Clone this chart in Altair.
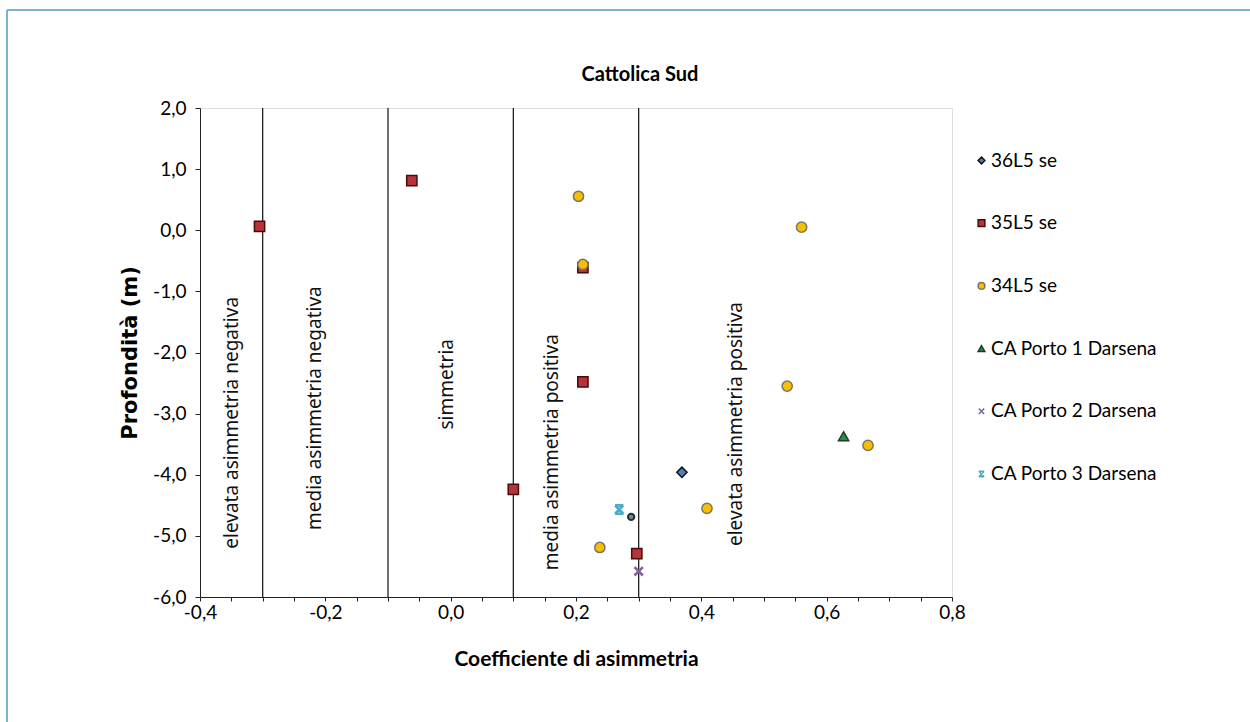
import altair as alt
import pandas as pd

# ---- series (coefficiente di asimmetria, profondità in m) ----
series_names = ["36L5 se", "35L5 se", "34L5 se",
                "CA Porto 1 Darsena", "CA Porto 2 Darsena", "CA Porto 3 Darsena"]

s36_x = [0.369]
s36_y = [-3.96]

s35_x = [-0.305, -0.062, 0.211, 0.211, 0.100, 0.297]
s35_y = [0.065, 0.81, -0.61, -2.48, -4.24, -5.29]

s34_x = [0.204, 0.211, 0.560, 0.537, 0.666, 0.409, 0.238]
s34_y = [0.556, -0.56, 0.05, -2.55, -3.52, -4.55, -5.19]

porto1_x = [0.627]
porto1_y = [-3.37]

porto2_x = [0.300]
porto2_y = [-5.58]

porto3_x = [0.269]
porto3_y = [-4.57]

# campione senza voce in legenda
extra_x = [0.288]
extra_y = [-4.69]

# ---- classi di asimmetria ----
class_bounds = [-0.3, -0.1, 0.1, 0.3]
class_labels = ["elevata asimmetria negativa", "media asimmetria negativa",
                "simmetria", "media asimmetria positiva",
                "elevata asimmetria positiva"]
class_label_x = [-0.349, -0.217, -0.006, 0.161, 0.456]
class_label_y = [-3.15, -2.91, -2.52, -3.63, -3.17]

chart_title = ["Cattolica Sud"]

# ---- ticks ----
x_ticks = [-0.40, -0.35, -0.30, -0.25, -0.20, -0.15, -0.10, -0.05, 0.00,
           0.05, 0.10, 0.15, 0.20, 0.25, 0.30, 0.35, 0.40, 0.45, 0.50,
           0.55, 0.60, 0.65, 0.70, 0.75, 0.80]
y_ticks = [2, 1, 0, -1, -2, -3, -4, -5, -6]

# ---- marker styles ----
shape_range = [
    "diamond", "square", "circle", "triangle-up",
    "M-0.8,-0.8L0.8,0.8M0.8,-0.8L-0.8,0.8",
    "M-0.8,-0.8L0.8,-0.8M-0.8,0.8L0.8,0.8M-0.8,-0.8L0.8,0.8M0.8,-0.8L-0.8,0.8",
]
fill_range = ["#4f81bd", "#b8323a", "#f5c000", "#2e8b4f", "#8064a2", "#4bacc6"]
stroke_range = ["#111111", "#4a0a0a", "#7d7466", "#1b3f25", "#8064a2", "#4bacc6"]
filled_series = series_names[:4]
cross_series = series_names[4:]

rows = []
for name, xs, ys in zip(series_names,
                        [s36_x, s35_x, s34_x, porto1_x, porto2_x, porto3_x],
                        [s36_y, s35_y, s34_y, porto1_y, porto2_y, porto3_y]):
    for xv, yv in zip(xs, ys):
        rows.append({"serie": name, "asim": xv, "prof": yv})
points_df = pd.DataFrame(rows)
extra_df = pd.DataFrame({"asim": extra_x, "prof": extra_y})
bounds_df = pd.DataFrame({"asim": class_bounds})
labels_df = pd.DataFrame({"testo": class_labels, "asim": class_label_x,
                          "prof": class_label_y})
title_df = pd.DataFrame({"testo": chart_title})

LABEL_FONT = "Lato"
comma = "replace(replace(format(datum.value, '.1f'), '.', ','), '\u2212', '-')"

x_scale = alt.Scale(domain=[-0.4, 0.8], nice=False, zero=False)
y_scale = alt.Scale(domain=[-6, 2], nice=False, zero=False)

x_axis = alt.Axis(
    title="Coefficiente di asimmetria", values=x_ticks,
    labelExpr="abs(round(datum.value * 100)) % 20 == 0 ? " + comma + " : ''",
    grid=False, tickSize=4, labelPadding=2, titlePadding=26,
    labelFont=LABEL_FONT, labelFontSize=19, labelColor="#000",
    titleFont=LABEL_FONT, titleFontSize=21, titleFontWeight="bold",
    titleColor="#000", domainColor="#222", tickColor="#222",
    labelFlush=False, labelOverlap=False,
)
y_axis = alt.Axis(
    title="Profondità (m)", values=y_ticks, labelExpr=comma,
    grid=False, tickSize=5, labelPadding=9, titlePadding=12,
    labelFont=LABEL_FONT, labelFontSize=19, labelColor="#000",
    titleFont="DejaVu Sans", titleFontSize=21, titleFontWeight="bold",
    titleColor="#000", domainColor="#222", tickColor="#222",
    labelFlush=False, labelOverlap=False,
)

base_x = alt.X("asim:Q", scale=x_scale, axis=x_axis)
base_y = alt.Y("prof:Q", scale=y_scale, axis=y_axis)

bounds = alt.Chart(bounds_df).mark_rule(color="#222", strokeWidth=1.3).encode(
    x=alt.X("asim:Q", scale=x_scale, axis=x_axis)
)

labels = alt.Chart(labels_df).mark_text(
    angle=270, font="Noto Sans", fontSize=19, color="#111",
    align="center", baseline="middle"
).encode(x=base_x, y=base_y, text="testo:N")

legend = alt.Legend(
    title=None, orient="none", legendX=772, legendY=43,
    labelFont=LABEL_FONT, labelFontSize=19, labelColor="#000",
    labelLimit=400, symbolSize=45, symbolStrokeWidth=1.5,
    rowPadding=42.7, labelOffset=0,
)

series_enc = dict(
    shape=alt.Shape("serie:N", scale=alt.Scale(domain=series_names, range=shape_range),
                    legend=legend),
    fill=alt.Fill("serie:N", scale=alt.Scale(domain=series_names, range=fill_range),
                  legend=legend),
    stroke=alt.Stroke("serie:N", scale=alt.Scale(domain=series_names, range=stroke_range),
                      legend=legend),
)

markers = alt.Chart(points_df).transform_filter(
    alt.FieldOneOfPredicate(field="serie", oneOf=filled_series)
).mark_point(filled=True, opacity=1, size=105, strokeWidth=1.5).encode(
    x=base_x, y=base_y, **series_enc
)

crosses = alt.Chart(points_df).transform_filter(
    alt.FieldOneOfPredicate(field="serie", oneOf=cross_series)
).mark_point(filled=False, opacity=1, size=110, strokeWidth=2.6).encode(
    x=base_x, y=base_y, **series_enc
)

extra = alt.Chart(extra_df).mark_point(
    shape="circle", size=40, fill="#7c8794", stroke="#25303b",
    strokeWidth=2, opacity=1
).encode(x=base_x, y=base_y)

title_text = alt.Chart(title_df).mark_text(
    font=LABEL_FONT, fontSize=20, fontWeight="bold", color="#000",
    align="center", baseline="middle"
).encode(x=alt.value(440), y=alt.value(-33), text="testo:N")

# outer frame (left and top edges of the chart box)
frame_left = alt.Chart(bounds_df).mark_rule(color="#7fb2cc", strokeWidth=2).encode(
    x=alt.value(-193), y=alt.value(-98), y2=alt.value(640)
)
frame_top = alt.Chart(bounds_df).mark_rule(color="#7fb2cc", strokeWidth=2).encode(
    x=alt.value(-193), x2=alt.value(1100), y=alt.value(-98)
)

chart = alt.layer(
    bounds, labels, extra, markers, crosses, title_text, frame_left, frame_top
).properties(
    width=752, height=489,
    autosize=alt.AutoSizeParams(type="none"),
    padding={"left": 200, "top": 108, "right": 298, "bottom": 125},
).configure_view(
    stroke="#333", strokeWidth=1
).configure(background="white")

chart.save("out.html", embed_options={"renderer": "svg", "actions": False})
